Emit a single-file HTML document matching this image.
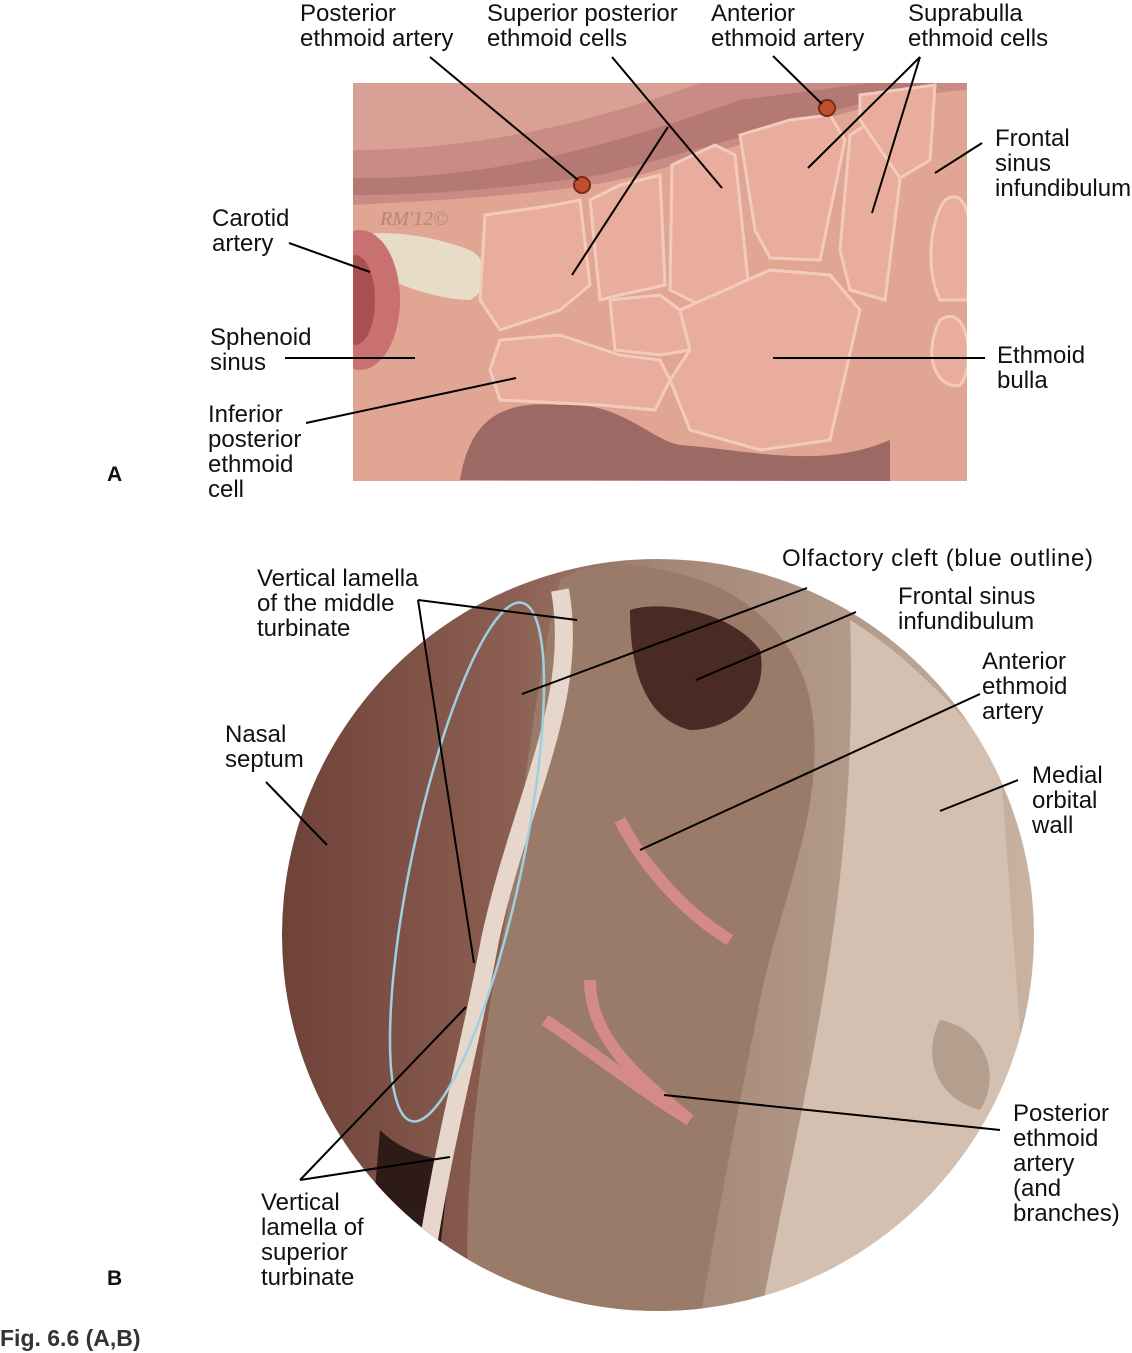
<!DOCTYPE html>
<html><head><meta charset="utf-8"><style>
html,body{margin:0;padding:0;background:#fff}
svg{display:block}
text{font-family:"Liberation Sans",sans-serif;font-size:24px;fill:#111}
</style></head><body>
<svg width="1132" height="1353" viewBox="0 0 1132 1353" xmlns="http://www.w3.org/2000/svg">
<defs>
<clipPath id="ra"><rect x="353" y="83" width="614" height="398"/></clipPath>
<clipPath id="cb"><circle cx="658" cy="935" r="376"/></clipPath>
<linearGradient id="gb" x1="0" x2="1" y1="0" y2="0">
<stop offset="0" stop-color="#6e4238"/><stop offset="0.3" stop-color="#8a5e50"/>
<stop offset="0.5" stop-color="#a48676"/><stop offset="0.75" stop-color="#b39a88"/><stop offset="1" stop-color="#cbb3a2"/></linearGradient>
</defs>
<!-- Panel A -->
<g clip-path="url(#ra)">
<rect x="353" y="83" width="614" height="398" fill="#e1a594"/>
<path d="M353,83 L967,83 L967,90 C880,95 760,140 640,175 C560,195 440,200 353,205 Z" fill="#c88c84"/>
<path d="M353,150 C480,150 600,120 700,83 L353,83 Z" fill="#d9a096"/>
<path d="M353,178 C480,180 600,150 740,100 L870,83 L940,83 C830,110 700,150 600,175 C500,190 420,195 353,195 Z" fill="#a86c68" opacity="0.6"/>
<path d="M353,235 C330,260 420,300 470,300 C490,290 490,260 470,250 C430,235 390,230 353,235 Z" fill="#e6dcc8"/>
<ellipse cx="360" cy="300" rx="40" ry="70" fill="#c97070"/>
<ellipse cx="355" cy="300" rx="20" ry="45" fill="#a85050"/>
<path d="M460,480 C470,420 500,400 560,405 C620,400 650,440 680,445 C750,450 820,470 890,440 L890,481 Z" fill="#9c6964"/>
<g fill="#e8ad9d" stroke="#f3cbbc" stroke-width="3">
<path d="M485,215 L555,205 L580,200 L590,285 L560,310 L500,330 L480,300 Z"/>
<path d="M590,200 L620,185 L660,175 L665,285 L620,295 L600,300 Z"/>
<path d="M672,165 L715,145 L735,155 L750,300 L700,305 L670,290 Z"/>
<path d="M740,135 L790,120 L830,115 L845,140 L820,260 L770,258 L755,230 Z"/>
<path d="M850,135 L890,110 L905,140 L885,300 L850,290 L840,250 Z"/>
<path d="M860,95 L935,85 L930,160 L900,178 L860,120 Z"/>
<path d="M610,300 L660,295 L680,310 L690,350 L660,355 L615,350 Z"/>
<path d="M500,340 L560,335 L620,355 L660,360 L670,380 L655,410 L600,405 L500,400 L490,370 Z"/>
<path d="M680,310 L770,270 L830,275 L860,310 L830,440 L760,450 L690,430 L670,380 L690,350 Z"/>
<path d="M945,200 C975,180 975,260 967,300 L940,300 C925,270 930,220 945,200 Z"/>
<path d="M940,320 C970,300 975,370 960,385 C940,390 920,360 940,320 Z"/>
</g>
<circle cx="582" cy="185" r="8" fill="#c0502c" stroke="#7a2a18" stroke-width="2"/>
<circle cx="827" cy="108" r="8" fill="#c0502c" stroke="#7a2a18" stroke-width="2"/>
<text x="380" y="225" style="font-family:'Liberation Serif',serif;font-style:italic;font-size:20px;fill:#b08878">RM'12©</text>
</g>
<!-- Panel B -->
<g clip-path="url(#cb)">
<rect x="280" y="555" width="760" height="760" fill="url(#gb)"/>
<path d="M560,580 C590,560 640,560 700,580 C760,600 800,650 810,700 C830,800 780,900 760,1000 C740,1100 720,1200 700,1320 L470,1320 C460,1200 480,1050 500,950 C520,850 530,700 560,580 Z" fill="#9a7a68"/>
<path d="M630,610 C660,600 730,610 760,650 C770,700 730,730 690,730 C650,720 630,680 630,610 Z" fill="#4a2a24"/>
<path d="M850,620 C900,650 950,700 1000,760 L1040,1300 L760,1320 C800,1100 860,900 850,620 Z" fill="#d4c0b0"/>
<path d="M940,1020 C990,1030 1000,1080 980,1110 C940,1100 920,1060 940,1020 Z" fill="#b49e8e"/>
<path d="M380,1130 C400,1150 430,1160 450,1160 L440,1250 L370,1250 Z" fill="#2e1a16"/>
<path d="M620,820 C640,860 680,910 730,940" stroke="#d48a88" stroke-width="12" fill="none"/>
<path d="M590,980 C590,1040 640,1080 690,1120 M545,1020 C590,1050 640,1090 690,1120" stroke="#d48a88" stroke-width="12" fill="none"/>
<path d="M560,590 C580,700 520,800 490,940 C470,1050 440,1150 420,1300" stroke="#e6d6cc" stroke-width="18" fill="none"/>
</g>
<ellipse cx="467" cy="862" rx="55" ry="265" transform="rotate(12 467 862)" fill="none" stroke="#9ed0e0" stroke-width="2.5"/>
<!-- Leader lines -->
<g stroke="#000" stroke-width="2" fill="none">
<line x1="430" y1="57" x2="578" y2="180"/>
<line x1="612" y1="57" x2="722" y2="188"/>
<line x1="668" y1="127" x2="572" y2="275"/>
<line x1="773" y1="56" x2="822" y2="104"/>
<line x1="920" y1="57" x2="808" y2="168"/>
<line x1="920" y1="57" x2="872" y2="213"/>
<line x1="982" y1="143" x2="935" y2="173"/>
<line x1="289" y1="243" x2="370" y2="272"/>
<line x1="285" y1="358" x2="415" y2="358"/>
<line x1="306" y1="423" x2="516" y2="378"/>
<line x1="773" y1="358" x2="985" y2="358"/>
<line x1="418" y1="600" x2="577" y2="620"/>
<line x1="418" y1="600" x2="474" y2="963"/>
<line x1="807" y1="588" x2="522" y2="694"/>
<line x1="856" y1="612" x2="696" y2="680"/>
<line x1="980" y1="694" x2="640" y2="850"/>
<line x1="1018" y1="780" x2="940" y2="811"/>
<line x1="266" y1="782" x2="327" y2="845"/>
<line x1="300" y1="1180" x2="466" y2="1007"/>
<line x1="300" y1="1180" x2="450" y2="1157"/>
<line x1="664" y1="1095" x2="1000" y2="1130"/>
</g>
<!-- Labels -->
<text x="300" y="21">Posterior</text><text x="300" y="46">ethmoid artery</text>
<text x="487" y="21">Superior posterior</text><text x="487" y="46">ethmoid cells</text>
<text x="711" y="21">Anterior</text><text x="711" y="46">ethmoid artery</text>
<text x="908" y="21">Suprabulla</text><text x="908" y="46">ethmoid cells</text>
<text x="995" y="146">Frontal</text><text x="995" y="171">sinus</text><text x="995" y="196">infundibulum</text>
<text x="212" y="226">Carotid</text><text x="212" y="251">artery</text>
<text x="210" y="345">Sphenoid</text><text x="210" y="370">sinus</text>
<text x="997" y="363">Ethmoid</text><text x="997" y="388">bulla</text>
<text x="208" y="422">Inferior</text><text x="208" y="447">posterior</text><text x="208" y="472">ethmoid</text><text x="208" y="497">cell</text>
<text x="107" y="481" style="font-weight:bold;font-size:21px">A</text>
<text x="257" y="586">Vertical lamella</text><text x="257" y="611">of the middle</text><text x="257" y="636">turbinate</text>
<text x="782" y="566" textLength="311">Olfactory cleft (blue outline)</text>
<text x="898" y="604">Frontal sinus</text><text x="898" y="629">infundibulum</text>
<text x="982" y="669">Anterior</text><text x="982" y="694">ethmoid</text><text x="982" y="719">artery</text>
<text x="225" y="742">Nasal</text><text x="225" y="767">septum</text>
<text x="1032" y="783">Medial</text><text x="1032" y="808">orbital</text><text x="1032" y="833">wall</text>
<text x="1013" y="1121">Posterior</text><text x="1013" y="1146">ethmoid</text><text x="1013" y="1171">artery</text><text x="1013" y="1196">(and</text><text x="1013" y="1221">branches)</text>
<text x="261" y="1210">Vertical</text><text x="261" y="1235">lamella of</text><text x="261" y="1260">superior</text><text x="261" y="1285">turbinate</text>
<text x="107" y="1285" style="font-weight:bold;font-size:21px">B</text>
<text x="0" y="1346" style="font-weight:bold;font-size:23px;fill:#333">Fig. 6.6 (A,B)</text>
</svg>
</body></html>
